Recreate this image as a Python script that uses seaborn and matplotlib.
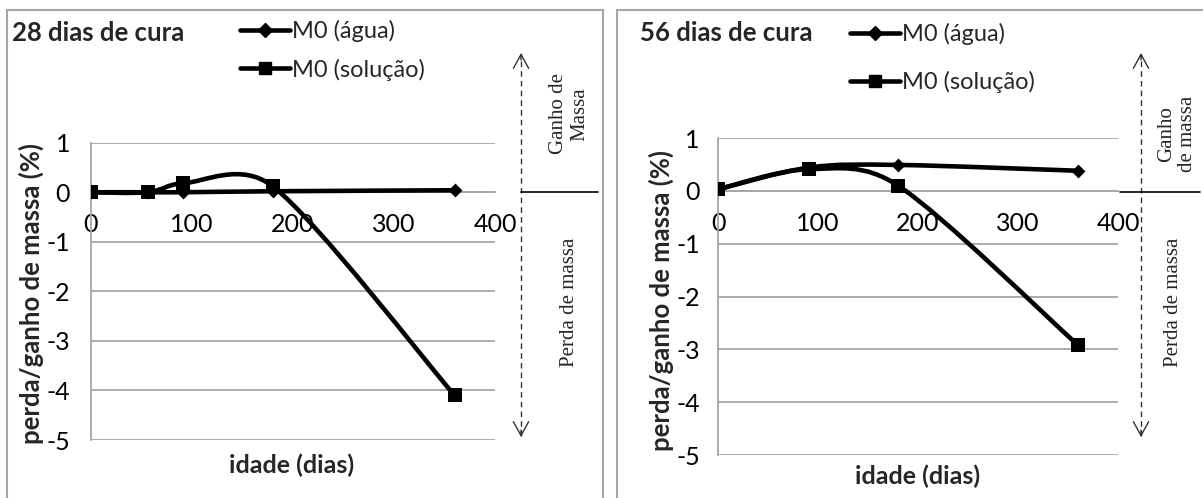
import matplotlib.pyplot as plt
import seaborn as sns
import numpy as np
import pandas as pd
from matplotlib.path import Path
from matplotlib.patches import PathPatch, Rectangle, FancyArrowPatch
from matplotlib.lines import Line2D

# values
dias_28 = [0, 56, 91, 180, 360]
agua_28 = [0.0, 0.0, 0.0, 0.02, 0.04]
solucao_28 = [0.0, 0.0, 0.18, 0.12, -4.1]

dias_56 = [0, 91, 180, 360]
agua_56 = [0.03, 0.44, 0.49, 0.38]
solucao_56 = [0.03, 0.41, 0.10, -2.92]

x_ticks = [0, 100, 200, 300, 400]
y_ticks = [-5, -4, -3, -2, -1, 0, 1]

sns.set_theme(style='white')
plt.rcParams['font.family'] = ['Lato', 'DejaVu Sans']
plt.rcParams['axes.unicode_minus'] = False

W, H = 1203, 498
fig = plt.figure(figsize=(W / 100, H / 100), dpi=100)


def fx(px):
    return px / W


def fy(py):
    return 1 - py / H


def smooth_line(ax, x, y, **kw):
    # Excel-like smoothed line: catmull-rom bezier with clamped control arms
    pts = ax.transData.transform(np.column_stack([x, y]))
    n = len(pts)
    verts = [pts[0]]
    codes = [Path.MOVETO]

    def arm(vec, seg):
        a = vec / 6
        lim = 0.45 * seg
        la = np.hypot(*a)
        if la > lim:
            a = a * lim / la
        return a

    for i in range(n - 1):
        p1, p2 = pts[i], pts[i + 1]
        d12 = np.hypot(*(p2 - p1))
        p0 = pts[i - 1] if i > 0 else p1
        p3 = pts[i + 2] if i < n - 2 else p2
        c1 = p1 + arm(p2 - p0, d12)
        c2 = p2 - arm(p3 - p1, d12)
        verts += [c1, c2, p2]
        codes += [Path.CURVE4] * 3
    verts = ax.transData.inverted().transform(np.array(verts))
    ax.add_patch(PathPatch(Path(verts, codes), facecolor='none', **kw))


def panel(box, dias, agua, solucao, title, title_xy, leg_xy, leg_space,
          ylab_xy, xlab_xy, arrow_x, line_x, ganho, ganho_xy, perda_xy, ypad):
    left, top, right, bottom = box
    ax = fig.add_axes([fx(left), fy(bottom), fx(right - left), (bottom - top) / H])
    ax.set_xlim(0, 400)
    ax.set_ylim(-5, 1)
    ax.set_xticks(x_ticks)
    ax.set_yticks(y_ticks)
    ax.set_facecolor('none')
    ax.grid(axis='y', color='#A6A6A6', lw=1.3)
    ax.grid(axis='x', visible=False)
    for s in ['top', 'right']:
        ax.spines[s].set_visible(False)
    ax.spines['left'].set_color('#A6A6A6')
    ax.spines['left'].set_linewidth(1.3)
    ax.spines['bottom'].set_position(('data', 0))
    ax.spines['bottom'].set_color('#A6A6A6')
    ax.spines['bottom'].set_linewidth(1.3)
    ax.tick_params(length=0, labelsize=18, labelcolor='black')
    ax.tick_params(axis='x', pad=15)
    ax.tick_params(axis='y', pad=ypad)

    smooth_line(ax, dias, agua, edgecolor='black', lw=3.3, zorder=3,
                capstyle='round', joinstyle='round')
    smooth_line(ax, dias, solucao, edgecolor='black', lw=3.3, zorder=3,
                capstyle='round', joinstyle='round')
    sns.scatterplot(x=dias, y=agua, marker='D', s=50, color='black',
                    edgecolor='black', linewidth=0, zorder=4, ax=ax)
    sns.scatterplot(x=dias, y=solucao, marker='s', s=90, color='black',
                    edgecolor='black', linewidth=0, zorder=5, ax=ax)
    ax.set_xlabel('')
    ax.set_ylabel('')

    handles = [Line2D([], [], color='black', lw=3.3, marker='D', ms=7),
               Line2D([], [], color='black', lw=3.3, marker='s', ms=9)]
    ax.legend(handles, ['M0 (água)', 'M0 (solução)'], loc='upper left',
              bbox_to_anchor=(fx(leg_xy[0]), fy(leg_xy[1])),
              bbox_transform=fig.transFigure, frameon=False, fontsize=17,
              handlelength=2.1, handletextpad=0.1, borderpad=0,
              borderaxespad=0, labelspacing=leg_space)

    fig.text(fx(title_xy[0]), fy(title_xy[1]), title, fontsize=18.5,
             fontweight='bold', va='center', ha='left')
    fig.text(fx(ylab_xy[0]), fy(ylab_xy[1]), 'perda/ganho de massa (%)',
             fontsize=18.5, fontweight='bold', rotation=90, ha='center', va='center')
    fig.text(fx(xlab_xy[0]), fy(xlab_xy[1]), 'idade (dias)', fontsize=18,
             fontweight='bold', ha='center', va='center')

    # dashed double arrow with open solid heads
    fig.add_artist(Line2D([fx(arrow_x), fx(arrow_x)], [fy(436), fy(54)],
                          transform=fig.transFigure, color='#333333', lw=1,
                          linestyle=(0, (4, 3))))
    for y0, y1 in [(430, 437), (60, 53)]:
        fig.add_artist(FancyArrowPatch((fx(arrow_x), fy(y0)), (fx(arrow_x), fy(y1)),
                                       transform=fig.transFigure,
                                       arrowstyle='->,head_length=1.0,head_width=0.55',
                                       mutation_scale=10, color='#333333', lw=1,
                                       shrinkA=0, shrinkB=0))
    fig.add_artist(Line2D([fx(line_x[0]), fx(line_x[1])], [fy(192), fy(192)],
                          transform=fig.transFigure, color='black', lw=1.2))
    fig.text(fx(ganho_xy[0]), fy(ganho_xy[1]), ganho, family='Liberation Serif',
             fontsize=15, rotation=90, ha='center', va='center',
             multialignment='center', linespacing=1.15)
    fig.text(fx(perda_xy[0]), fy(perda_xy[1]), 'Perda de massa',
             family='Liberation Serif', fontsize=15, rotation=90,
             ha='center', va='center')
    return ax


# panel frames
fig.add_artist(Rectangle((fx(7), -0.1), fx(603 - 7), fy(10) + 0.1,
                         transform=fig.transFigure, fill=False,
                         edgecolor='#A6A6A6', lw=1.5))
fig.add_artist(Rectangle((fx(617), -0.1), fx(700), fy(10) + 0.1,
                         transform=fig.transFigure, fill=False,
                         edgecolor='#A6A6A6', lw=1.5))

panel((91, 142.7, 495, 440), dias_28, agua_28, solucao_28, '28 dias de cura',
      (12, 33), (240, 20), 0.7, (31, 293), (292, 465), 521, (521, 598),
      'Ganho de\nMassa', (569, 114), (569, 302), 15)
panel((718, 138, 1118, 455), dias_56, agua_56, solucao_56, '56 dias de cura',
      (640, 33), (850, 23), 1.1, (661, 300), (918, 476), 1141, (1120, 1200),
      'Ganho\nde massa', (1177, 134), (1174, 302), 13)

fig.savefig('out.png', dpi=100)
